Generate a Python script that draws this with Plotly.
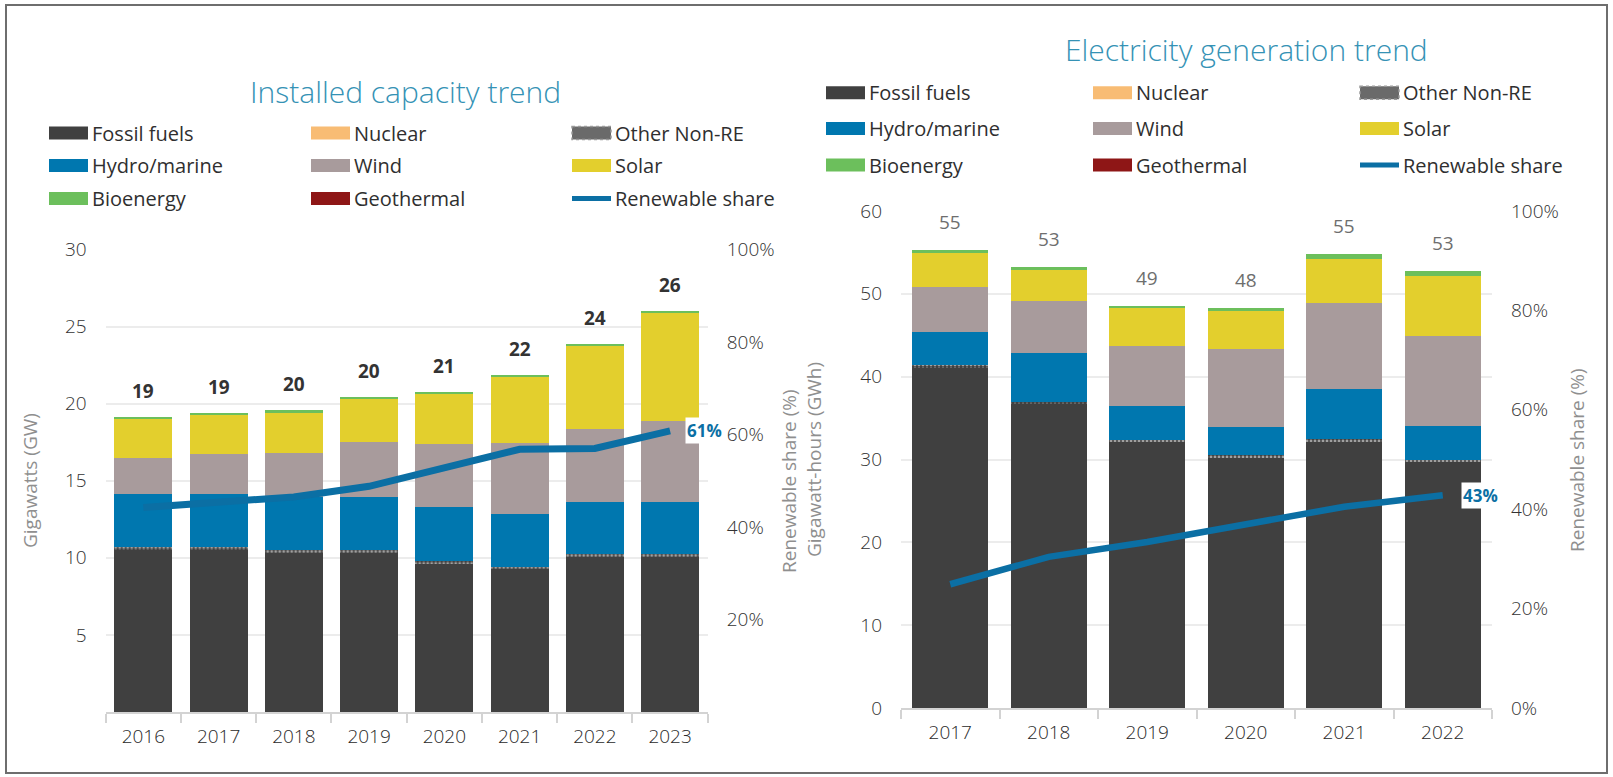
import plotly.graph_objects as go

W, H = 1613, 777

# ---------------- data: installed capacity (GW) ----------------
cap_years = ["2016", "2017", "2018", "2019", "2020", "2021", "2022", "2023"]
cap_fossil = [10.58, 10.58, 10.40, 10.40, 9.69, 9.32, 10.13, 10.13]
cap_other = [0.10, 0.10, 0.10, 0.10, 0.10, 0.10, 0.10, 0.10]
cap_nuclear = [0, 0, 0, 0, 0, 0, 0, 0]
cap_hydro = [3.44, 3.44, 3.46, 3.46, 3.48, 3.42, 3.37, 3.41]
cap_wind = [2.33, 2.59, 2.86, 3.57, 4.09, 4.63, 4.73, 5.25]
cap_solar = [2.63, 2.63, 2.67, 2.85, 3.30, 4.31, 5.47, 7.04]
cap_bio = [0.07, 0.07, 0.07, 0.07, 0.07, 0.07, 0.07, 0.07]
cap_geo = [0, 0, 0, 0, 0, 0, 0, 0]
cap_share = [44.2, 45.2, 46.5, 48.8, 52.8, 56.8, 57.0, 60.8]
cap_total_labels = ["19", "19", "20", "20", "21", "22", "24", "26"]
cap_share_label = "61%"

# ---------------- data: electricity generation (GWh) ----------------
gen_years = ["2017", "2018", "2019", "2020", "2021", "2022"]
gen_fossil = [41.1, 36.68, 32.06, 30.24, 32.14, 29.70]
gen_other = [0.30, 0.30, 0.30, 0.30, 0.30, 0.30]
gen_nuclear = [0, 0, 0, 0, 0, 0]
gen_hydro = [4.00, 5.84, 4.10, 3.42, 6.03, 4.05]
gen_wind = [5.47, 6.32, 7.24, 9.34, 10.46, 10.86]
gen_solar = [4.10, 3.82, 4.59, 4.60, 5.32, 7.21]
gen_bio = [0.29, 0.24, 0.28, 0.35, 0.52, 0.64]
gen_geo = [0, 0, 0, 0, 0, 0]
gen_share = [24.9, 30.4, 33.4, 36.8, 40.5, 42.8]
gen_total_labels = ["55", "53", "49", "48", "55", "53"]
gen_share_label = "43%"

series_names = ["Fossil fuels", "Nuclear", "Other Non-RE", "Hydro/marine", "Wind",
                "Solar", "Bioenergy", "Geothermal", "Renewable share"]

C_FOSSIL = "#404040"
C_NUCLEAR = "#F8BC74"
C_HYDRO = "#0077AF"
C_WIND = "#A89B9C"
C_SOLAR = "#E3CF2D"
C_BIO = "#6CBF5C"
C_GEO = "#8E1616"
C_LINE = "#0B6FA4"
C_TITLE = "#3592B5"
FONT = "Open Sans"


def px(x):
    return x / W


def py(y):
    return 1 - y / H


fig = go.Figure()


def add_stack(xs, xa, ya, ya2, fossil, other, nuclear, hydro, wind, solar, bio, geo, share, lw):
    fig.add_bar(x=xs, y=fossil, marker=dict(color=C_FOSSIL, line=dict(width=0)),
                xaxis=xa, yaxis=ya, name="Fossil fuels")
    fig.add_bar(x=xs, y=other, marker=dict(color=C_FOSSIL, line=dict(width=0),
                pattern=dict(shape=".", fgcolor="#ffffff", bgcolor=C_FOSSIL, size=4, solidity=0.4)),
                xaxis=xa, yaxis=ya, name="Other Non-RE")
    fig.add_bar(x=xs, y=nuclear, marker=dict(color=C_NUCLEAR, line=dict(width=0)),
                xaxis=xa, yaxis=ya, name="Nuclear")
    fig.add_bar(x=xs, y=hydro, marker=dict(color=C_HYDRO, line=dict(width=0)),
                xaxis=xa, yaxis=ya, name="Hydro/marine")
    fig.add_bar(x=xs, y=wind, marker=dict(color=C_WIND, line=dict(width=0)),
                xaxis=xa, yaxis=ya, name="Wind")
    fig.add_bar(x=xs, y=solar, marker=dict(color=C_SOLAR, line=dict(width=0)),
                xaxis=xa, yaxis=ya, name="Solar")
    fig.add_bar(x=xs, y=bio, marker=dict(color=C_BIO, line=dict(width=0)),
                xaxis=xa, yaxis=ya, name="Bioenergy")
    fig.add_bar(x=xs, y=geo, marker=dict(color=C_GEO, line=dict(width=0)),
                xaxis=xa, yaxis=ya, name="Geothermal")
    fig.add_scatter(x=xs, y=share, mode="lines", line=dict(color=C_LINE, width=lw),
                    xaxis=xa, yaxis=ya2, name="Renewable share")


add_stack(cap_years, "x", "y", "y2", cap_fossil, cap_other, cap_nuclear, cap_hydro,
          cap_wind, cap_solar, cap_bio, cap_geo, cap_share, 7)
add_stack(gen_years, "x3", "y3", "y4", gen_fossil, gen_other, gen_nuclear, gen_hydro,
          gen_wind, gen_solar, gen_bio, gen_geo, gen_share, 6.5)

annotations = []
shapes = []

# totals (x given as category index)
cap_totals = [sum(v) for v in zip(cap_fossil, cap_other, cap_nuclear, cap_hydro, cap_wind,
                                  cap_solar, cap_bio, cap_geo)]
for i, (tv, lab) in enumerate(zip(cap_totals, cap_total_labels)):
    annotations.append(dict(x=i, y=tv, xref="x", yref="y", text="<b>%s</b>" % lab,
                            showarrow=False, xanchor="center", yanchor="bottom", yshift=11,
                            font=dict(family=FONT, size=19, color="#333333")))
gen_totals = [sum(v) for v in zip(gen_fossil, gen_other, gen_nuclear, gen_hydro, gen_wind,
                                  gen_solar, gen_bio, gen_geo)]
for i, (tv, lab) in enumerate(zip(gen_totals, gen_total_labels)):
    annotations.append(dict(x=i, y=tv, xref="x3", yref="y3", text=lab,
                            showarrow=False, xanchor="center", yanchor="bottom", yshift=13,
                            font=dict(family=FONT, size=19, color="#6e6e6e")))

# share end labels
annotations.append(dict(x=len(cap_years) - 1, y=cap_share[-1], xref="x", yref="y2",
                        text="<b>%s</b>" % cap_share_label, showarrow=False,
                        xanchor="left", yanchor="middle", xshift=15, bgcolor="white", borderpad=1,
                        font=dict(family=FONT, size=17, color=C_LINE)))
annotations.append(dict(x=len(gen_years) - 1, y=gen_share[-1], xref="x3", yref="y4",
                        text="<b>%s</b>" % gen_share_label, showarrow=False,
                        xanchor="left", yanchor="middle", xshift=18, bgcolor="white", borderpad=1,
                        font=dict(family=FONT, size=17, color=C_LINE)))

# titles
annotations.append(dict(x=px(405), y=py(91), xref="paper", yref="paper",
                        text="Installed capacity trend", showarrow=False,
                        xanchor="center", yanchor="middle",
                        font=dict(family=FONT, size=30, color=C_TITLE, weight=300)))
annotations.append(dict(x=px(1246), y=py(49), xref="paper", yref="paper",
                        text="Electricity generation trend", showarrow=False,
                        xanchor="center", yanchor="middle",
                        font=dict(family=FONT, size=30, color=C_TITLE, weight=300)))

# axis titles
for (xx, yy, t) in [(30, 481, "Gigawatts (GW)"), (789, 481, "Renewable share (%)"),
                    (814, 460, "Gigawatt-hours (GWh)"), (1577, 460, "Renewable share (%)")]:
    annotations.append(dict(x=px(xx), y=py(yy), xref="paper", yref="paper", text=t,
                            textangle=-90, showarrow=False, xanchor="center", yanchor="middle",
                            font=dict(family=FONT, size=19, color="#8f8f8f")))

# legends (manual, 3 columns)
swatch_colors = {"Fossil fuels": C_FOSSIL, "Nuclear": C_NUCLEAR, "Other Non-RE": "#6a6a6a",
                 "Hydro/marine": C_HYDRO, "Wind": C_WIND, "Solar": C_SOLAR,
                 "Bioenergy": C_BIO, "Geothermal": C_GEO}


def legend(cols_x, rows_y, sw=39):
    for i, name in enumerate(series_names):
        r, c = divmod(i, 3)
        x0 = cols_x[c]
        yc = rows_y[r]
        if name == "Renewable share":
            shapes.append(dict(type="line", xref="paper", yref="paper",
                               x0=px(x0), x1=px(x0 + sw), y0=py(yc), y1=py(yc),
                               line=dict(color=C_LINE, width=5)))
        else:
            shp = dict(type="rect", xref="paper", yref="paper",
                       x0=px(x0), x1=px(x0 + sw), y0=py(yc - 6.5), y1=py(yc + 6.5),
                       fillcolor=swatch_colors[name], line=dict(width=0))
            if name == "Other Non-RE":
                shp["line"] = dict(width=1.5, color="#9a9a9a", dash="dot")
            shapes.append(shp)
        annotations.append(dict(x=px(x0 + sw + 2), y=py(yc), xref="paper", yref="paper",
                                text=name, showarrow=False, xanchor="left", yanchor="middle",
                                font=dict(family=FONT, size=20, color="#2f2f2f")))


legend([49, 311, 572], [133, 165.5, 198.5])
legend([826, 1093, 1360], [92.7, 128.5, 165])

# outer border
shapes.append(dict(type="rect", xref="paper", yref="paper", x0=px(6), x1=px(1607),
                   y0=py(773), y1=py(5), line=dict(color="#6e6e6e", width=2),
                   fillcolor="rgba(0,0,0,0)", layer="above"))

xcommon = dict(type="category", showline=True, linecolor="#d3d3d3", linewidth=2,
               ticks="outside", tickson="boundaries", ticklen=9, tickcolor="#d3d3d3",
               tickwidth=2, showgrid=False, zeroline=False, ticklabelstandoff=6,
               automargin=False, tickangle=0,
               tickfont=dict(family=FONT, size=19, color="#2a2a2a", weight=300))
ycommon = dict(showgrid=True, gridcolor="#ececec", gridwidth=2, zeroline=False,
               showline=False, ticks="", ticklabelstandoff=18, automargin=False,
               tickfont=dict(family=FONT, size=19, color="#333333", weight=300))

fig.update_layout(
    width=W, height=H, margin=dict(l=0, r=0, t=0, b=0, autoexpand=False),
    paper_bgcolor="white", plot_bgcolor="white",
    barmode="stack", bargap=0.23, showlegend=False,
    font=dict(family=FONT),
    xaxis=dict(domain=[px(105.7), px(707.7)], anchor="y",
               range=[-0.5, len(cap_years) - 0.5], **xcommon),
    yaxis=dict(domain=[py(712), py(249.5)], range=[0, 30],
               tickvals=[5, 10, 15, 20, 25, 30], anchor="x", **ycommon),
    yaxis2=dict(domain=[py(712), py(249.5)], range=[0, 100], overlaying="y", side="right",
                anchor="x", tickvals=[20, 40, 60, 80, 100],
                ticktext=["20%", "40%", "60%", "80%", "100%"], showgrid=False,
                zeroline=False, showline=False, ticklabelstandoff=18, automargin=False,
                tickfont=dict(family=FONT, size=19, color="#333333", weight=300)),
    xaxis3=dict(domain=[px(901), px(1492)], anchor="y3",
                range=[-0.5, len(gen_years) - 0.5], **xcommon),
    yaxis3=dict(domain=[py(708), py(211)], range=[0, 60],
                tickvals=[0, 10, 20, 30, 40, 50, 60], anchor="x3", **ycommon),
    yaxis4=dict(domain=[py(708), py(211)], range=[0, 100], overlaying="y3", side="right",
                anchor="x3", tickvals=[0, 20, 40, 60, 80, 100],
                ticktext=["0%", "20%", "40%", "60%", "80%", "100%"], showgrid=False,
                zeroline=False, showline=False, ticklabelstandoff=18, automargin=False,
                tickfont=dict(family=FONT, size=19, color="#333333", weight=300)),
    annotations=annotations, shapes=shapes,
)

fig.write_html("out.html", config={"displayModeBar": False},
               post_script="document.body.style.margin='0';document.body.style.overflow='hidden';")
